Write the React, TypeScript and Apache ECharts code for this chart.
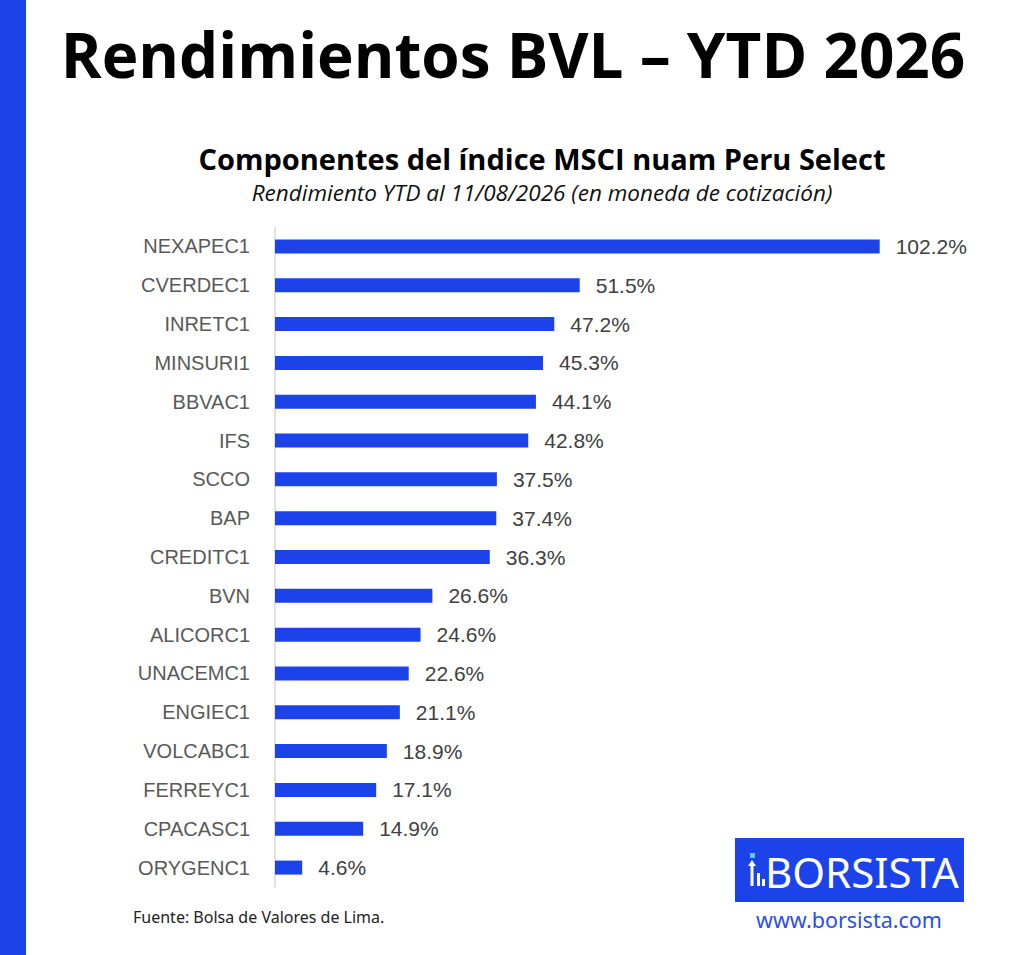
import React, { useEffect, useRef } from "react";
import * as echarts from "echarts";

const categories = [
  "NEXAPEC1", "CVERDEC1", "INRETC1", "MINSURI1", "BBVAC1", "IFS", "SCCO", "BAP",
  "CREDITC1", "BVN", "ALICORC1", "UNACEMC1", "ENGIEC1", "VOLCABC1", "FERREYC1",
  "CPACASC1", "ORYGENC1",
];
const returnsYtd = [
  102.2, 51.5, 47.2, 45.3, 44.1, 42.8, 37.5, 37.4, 36.3, 26.6, 24.6, 22.6, 21.1,
  18.9, 17.1, 14.9, 4.6,
];
const mainTitle = "Rendimientos BVL – YTD 2026";
const chartTitle = "Componentes del índice MSCI nuam Peru Select";
const chartSubtitle = "Rendimiento YTD al 11/08/2026 (en moneda de cotización)";
const sourceNote = "Fuente: Bolsa de Valores de Lima.";
const brandName = "BORSISTA";
const brandUrl = "www.borsista.com";

const BLUE = "#1c42ea";

export default function App() {
  const ref = useRef<HTMLDivElement>(null);
  useEffect(() => {
    if (!ref.current) return;
    const chart = echarts.init(ref.current, null, { renderer: "svg" });
    chart.setOption({
      animation: false,
      backgroundColor: "#ffffff",
      grid: { left: 275, top: 227, width: 710, height: 660, containLabel: false },
      xAxis: {
        type: "value",
        min: 0,
        max: 120,
        show: false,
      },
      yAxis: {
        type: "category",
        data: categories,
        inverse: true,
        axisLine: { show: true, lineStyle: { color: "#d9d9d9", width: 1.5 } },
        axisTick: { show: false },
        axisLabel: {
          margin: 25,
          color: "#595959",
          fontSize: 20,
          fontFamily: "Liberation Sans, Arial, sans-serif",
        },
      },
      series: [
        {
          type: "bar",
          data: returnsYtd,
          barWidth: 14,
          itemStyle: { color: BLUE },
          label: {
            show: true,
            position: "right",
            distance: 16,
            color: "#404040",
            fontSize: 21,
            fontFamily: "Liberation Sans, Arial, sans-serif",
            formatter: (p: any) => `${p.value.toFixed(1)}%`,
          },
        },
      ],
      graphic: [
        { type: "rect", shape: { x: 0, y: 0, width: 26, height: 955 }, style: { fill: BLUE } },
        {
          type: "text",
          x: 513,
          y: 54,
          style: {
            text: mainTitle,
            fontSize: 62,
            fontWeight: 700,
            fontFamily: "Open Sans, sans-serif",
            fill: "#000",
            align: "center",
            verticalAlign: "middle",
          },
        },
        {
          type: "text",
          x: 542,
          y: 158,
          style: {
            text: chartTitle,
            fontSize: 29,
            fontWeight: 700,
            fontFamily: "Open Sans, sans-serif",
            fill: "#000",
            align: "center",
            verticalAlign: "middle",
          },
        },
        {
          type: "text",
          x: 542,
          y: 192,
          style: {
            text: chartSubtitle,
            fontSize: 22.5,
            fontStyle: "italic",
            fontFamily: "Open Sans, sans-serif",
            fill: "#111",
            align: "center",
            verticalAlign: "middle",
          },
        },
        {
          type: "text",
          x: 133,
          y: 917,
          style: {
            text: sourceNote,
            fontSize: 16,
            fontFamily: "Noto Sans, sans-serif",
            fill: "#222",
            align: "left",
            verticalAlign: "middle",
          },
        },
        { type: "rect", shape: { x: 735, y: 838, width: 229, height: 64 }, style: { fill: BLUE } },
        { type: "rect", shape: { x: 750, y: 853, width: 5, height: 5 }, style: { fill: "#5ec8f5" } },
        {
          type: "polygon",
          shape: { points: [[752, 860], [756, 866], [753.5, 866], [753.5, 886], [750.5, 886], [750.5, 866], [748, 866]] },
          style: { fill: "#ffffff" },
        },
        { type: "rect", shape: { x: 757, y: 873, width: 3, height: 13 }, style: { fill: "#ffffff" } },
        { type: "rect", shape: { x: 762, y: 879, width: 3, height: 7 }, style: { fill: "#ffffff" } },
        {
          type: "text",
          x: 765,
          y: 871,
          style: {
            text: brandName,
            fontSize: 42,
            fontFamily: "Noto Sans, sans-serif",
            fill: "#ffffff",
            align: "left",
            verticalAlign: "middle",
          },
        },
        {
          type: "text",
          x: 849,
          y: 919,
          style: {
            text: brandUrl,
            fontSize: 21.5,
            fontFamily: "Noto Sans, sans-serif",
            fill: "#2a4fe6",
            align: "center",
            verticalAlign: "middle",
          },
        },
      ],
    });
    return () => chart.dispose();
  }, []);
  return (
    <div
      ref={ref}
      style={{ position: "absolute", left: 0, top: 0, width: 1024, height: 955 }}
    />
  );
}
